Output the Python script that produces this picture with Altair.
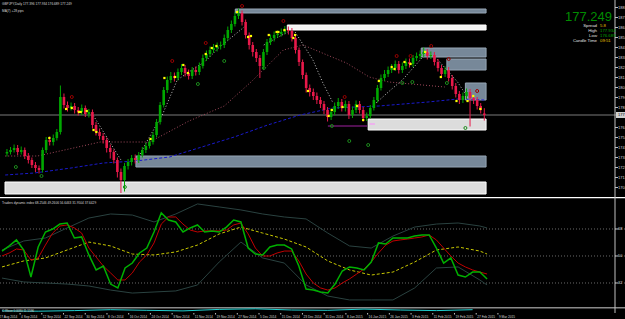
import altair as alt
import pandas as pd

FONT = "Liberation Sans"
W = 625
XDOM = [-0.55, 172.1]
H_MAIN, H_TDI, H_STRIP, H_DATE = 197, 110, 6, 6

# ---------------- candles (daily bars, bar 0 = 28 Aug 2014) ----------------
OPEN = [173.40,173.55,173.75,173.95,173.55,173.75,173.15,172.75,172.25,171.95,
        171.75,173.75,174.75,174.55,174.95,175.55,179.05,178.25,177.95,178.15,
        177.75,177.55,177.95,177.35,177.55,176.25,175.55,175.15,174.75,173.95,
        173.55,172.75,171.55,170.75,172.15,172.55,172.95,172.75,173.25,173.75,
        174.15,174.55,175.25,176.55,178.25,179.75,180.75,181.15,180.95,181.55,
        181.95,181.45,181.15,181.75,181.55,182.15,182.95,183.35,183.75,183.95,
        184.15,184.25,184.95,185.75,186.35,187.15,187.45,186.55,185.25,184.25,
        183.55,182.95,182.15,183.55,184.55,184.95,185.25,185.35,185.55,185.75,
        185.65,184.95,183.75,182.55,181.25,179.95,179.55,179.15,178.75,178.35,
        177.75,177.05,177.55,178.15,178.55,177.95,178.35,177.25,177.75,178.35,
        177.75,176.95,177.15,177.95,178.75,179.95,180.95,181.35,181.75,181.95,
        182.35,181.75,182.15,182.55,182.35,182.95,183.15,183.35,183.55,183.15,
        183.25,182.55,181.95,181.35,181.75,180.95,180.15,179.35,178.75,179.15,
        179.55,178.95,178.75,178.15,177.40]
HIGH = [173.85,174.05,174.30,174.25,174.10,174.00,173.45,173.00,172.55,172.20,
        174.00,175.05,175.10,175.30,175.85,180.20,179.40,178.60,178.50,178.45,
        178.05,178.30,178.20,177.85,177.80,176.55,175.90,175.45,175.00,174.30,
        173.80,173.00,171.90,172.45,172.85,173.25,173.30,173.55,174.05,174.45,
        174.85,175.55,176.85,178.55,180.05,181.10,181.55,181.50,181.90,182.35,
        182.25,181.80,182.05,182.10,182.50,183.30,183.70,184.10,184.35,184.50,
        184.60,185.30,186.10,186.70,187.50,187.90,187.70,186.80,185.50,184.55,
        183.85,183.25,183.85,184.85,185.30,185.60,185.70,185.90,186.15,186.10,
        185.95,185.20,184.00,182.80,181.50,180.30,179.90,179.50,179.05,178.65,
        178.05,177.90,178.50,178.95,178.85,178.70,178.65,178.10,178.70,178.65,
        178.05,177.50,178.25,179.05,180.25,181.30,181.75,182.10,182.35,182.70,
        182.65,182.50,182.90,182.90,183.25,183.50,183.70,184.00,183.85,183.60,
        183.55,182.85,182.25,182.10,182.05,181.25,180.45,179.65,179.50,179.90,
        179.85,179.25,179.05,178.45,177.93]
LOW = [173.10,173.30,173.50,173.25,173.30,172.85,172.40,171.95,171.55,171.40,
       171.50,173.45,174.20,174.20,174.70,175.30,177.90,177.60,177.70,177.40,
       177.20,177.25,177.05,177.00,175.90,175.20,174.80,174.40,173.50,172.90,
       172.40,171.00,169.45,169.60,171.80,172.20,172.40,172.45,173.00,173.45,
       173.90,174.30,175.00,176.30,178.00,179.45,180.45,180.60,180.70,181.25,
       181.10,180.80,180.85,181.20,181.25,181.90,182.65,183.05,183.45,183.60,
       183.80,183.95,184.70,185.45,186.10,186.85,186.20,184.90,183.80,183.10,
       182.55,180.95,181.85,183.25,184.25,184.60,184.95,185.10,185.30,185.30,
       184.60,183.40,182.15,180.85,179.50,179.10,178.75,178.35,177.95,177.35,
       176.60,176.75,177.25,177.85,177.60,177.60,176.85,176.95,177.45,177.40,
       176.60,176.65,176.90,177.70,178.50,179.70,180.65,181.05,181.45,181.65,
       181.40,181.45,181.85,182.00,182.05,182.65,182.85,183.05,182.80,182.85,
       182.20,181.60,181.00,181.05,180.60,179.80,179.00,178.35,178.45,178.85,
       176.10,178.35,177.80,177.40,176.69]
CLOSE = [173.55,173.75,173.95,173.55,173.75,173.15,172.75,172.25,171.95,171.75,
         173.75,174.75,174.55,174.95,175.55,179.05,178.25,177.95,178.15,177.75,
         177.55,177.95,177.35,177.55,176.25,175.55,175.15,174.75,173.95,173.55,
         172.75,171.55,170.75,172.15,172.55,172.95,172.75,173.25,173.75,174.15,
         174.55,175.25,176.55,178.25,179.75,180.75,181.15,180.95,181.55,181.95,
         181.45,181.15,181.75,181.55,182.15,182.95,183.35,183.75,183.95,184.15,
         184.25,184.95,185.75,186.35,187.15,187.45,186.55,185.25,184.25,183.55,
         182.95,182.15,183.55,184.55,184.95,185.25,185.35,185.55,185.75,185.65,
         184.95,183.75,182.55,181.25,179.95,179.55,179.15,178.75,178.35,177.75,
         177.05,177.55,178.15,178.55,177.95,178.35,177.25,177.75,178.35,177.75,
         176.95,177.15,177.95,178.75,179.95,180.95,181.35,181.75,181.95,182.35,
         181.75,182.15,182.55,182.35,182.95,183.15,183.35,183.55,183.15,183.25,
         182.55,181.95,181.35,181.75,180.95,180.15,179.35,178.75,179.15,179.55,
         178.95,178.75,178.15,177.75,177.25]
LAST = 177.249

# ---------------- zones ----------------
ZONE_START = [64.1, 78.7, 116.3, 123.5, 128.7, 101.4, 36.2, -0.55]
ZONE_END = [134.5, 134.5, 134.5, 134.5, 134.5, 134.5, 134.5, 134.5]
ZONE_TOP = [187.85, 186.25, 183.95, 182.85, 180.45, 176.85, 173.15, 170.55]
ZONE_BOT = [187.45, 185.75, 183.05, 181.75, 178.75, 175.75, 172.05, 169.35]
ZONE_KIND = ["supply", "white", "supply", "supply", "supply", "demand", "supply", "demand"]

# ---------------- overlay lines ----------------
BLUE_BAR = [-0.5, 7.7, 18.0, 27.1, 36.2, 45.6, 54.7, 63.8, 73.2, 82.3, 91.4, 104.4, 118.2, 126.5, 134.0]
BLUE_VAL = [171.25, 171.45, 171.95, 172.45, 172.65, 173.05, 174.05, 175.05, 176.25, 177.25, 177.95, 178.15, 178.55, 178.85, 178.75]
MAROON_BAR = [-0.5, 8.6, 26.2, 40.1, 51.1, 61.0, 68.5, 77.6, 83.1, 95.3, 101.7, 107.2, 122.9]
MAROON_VAL = [173.15, 173.15, 174.55, 174.55, 176.65, 178.15, 180.55, 183.75, 184.25, 182.45, 181.05, 180.55, 180.05]
ZZ_SEG = [1, 1, 2, 2, 2, 2, 2, 2, 2, 2, 3, 3, 4, 4, 4, 4, 5, 5, 5, 5, 5, 6, 6, 6, 6]
ZZ_BAR = [23.8, 32.0, 36.2, 39.5, 43.6, 47.8, 51.9, 55.5, 59.4, 66.6, 72.1, 79.3,
          80.9, 85.9, 88.7, 91.4, 103.6, 107.7, 111.0, 115.5, 117.7, 118.2, 121.0, 126.5, 129.8]
ZZ_VAL = [177.45, 172.75, 172.55, 174.75, 177.25, 180.75, 181.75, 182.55, 183.95, 186.05, 184.25, 185.65,
          185.55, 182.75, 180.45, 178.55, 178.45, 179.75, 180.75, 182.55, 183.45, 183.55, 182.75, 180.55, 178.75]
PURPLE_BAR = [90.1, 101.1]
PURPLE_VAL = [176.15, 176.15]
PINK_BAR = [101.8, 103.3]
PINK_VAL = [176.35, 176.35]

# ---------------- markers ----------------
YEL_BAR = [11.9, 16.6, 18.2, 20.2, 20.7, 22.4, 24.3, 25.1, 40.3, 44.2, 47.2, 49.5, 50.8, 55.8, 57.5, 58.8,
           64.6, 67.7, 68.5, 73.5, 75.7, 76.2, 77.9, 80.4, 80.9, 84.5, 90.3, 91.2, 94.2, 98.3, 100.0,
           104.4, 108.0, 108.8, 111.6, 113.3, 117.4, 121.8, 126.2, 129.3, 130.9, 132.9]
YEL_VAL = [174.95, 177.85, 177.95, 177.55, 177.55, 177.65, 175.75, 175.55, 174.85, 180.95, 181.05, 182.25,
           181.45, 183.35, 183.95, 184.15, 187.55, 185.05, 185.15, 185.25, 185.55, 185.55, 185.75, 184.95,
           185.25, 179.65, 177.15, 177.75, 178.05, 178.15, 176.75, 180.65, 182.05, 181.85, 182.55, 182.35,
           183.55, 181.05, 178.65, 178.65, 179.15, 177.85]
FR_UP_BAR = [18.2, 46.4, 55.8, 66.0, 77.6, 94.8, 109.4, 113.3, 119.1, 124.0, 132.0]
FR_UP_VAL = [179.05, 182.65, 184.45, 188.15, 186.65, 179.05, 183.15, 183.15, 184.15, 182.85, 179.65]
FR_DN_BAR = [2.5, 9.7, 33.1, 53.6, 61.0, 72.1, 91.2, 96.1, 101.4, 111.0, 113.8, 123.5, 128.7]
FR_DN_VAL = [172.05, 171.15, 170.05, 180.35, 182.65, 181.95, 176.15, 174.65, 174.25, 180.45, 180.55, 180.45, 175.95]

PRICE_TICKS = [188, 187, 186, 185, 184, 183, 182, 181, 180, 179, 178, 176, 175, 174, 173, 172, 171, 170]

# ---------------- Traders Dynamic Index ----------------
TDI_FAST_BAR = list(range(0, 135, 2))
TDI_GREEN = [53.3, 56.7, 60.7, 54.0, 36.0, 56.0, 66.0, 68.0, 71.3, 72.0,
             62.0, 62.7, 50.7, 40.7, 43.3, 31.3, 28.7, 42.0, 45.3, 52.0,
             55.3, 66.0, 78.7, 74.0, 72.7, 66.0, 68.7, 70.7, 66.0, 66.7,
             66.0, 69.3, 74.0, 72.7, 55.3, 51.3, 50.7, 56.0, 57.3, 57.3,
             54.7, 43.3, 28.0, 27.3, 26.0, 25.3, 31.3, 40.0, 42.7, 42.0,
             40.7, 46.0, 58.7, 58.0, 62.0, 62.0, 62.0, 63.3, 64.0, 64.0,
             55.3, 45.3, 48.7, 37.3, 36.0, 39.3, 39.3, 34.7]
TDI_RED = [50.0, 52.0, 54.7, 54.0, 47.3, 48.7, 57.3, 65.3, 70.0, 70.7,
           68.7, 65.3, 55.3, 49.3, 43.3, 38.7, 34.0, 34.0, 38.7, 46.0,
           50.7, 58.7, 71.3, 76.0, 76.0, 71.3, 67.3, 66.0, 66.7, 66.7,
           66.7, 67.3, 70.7, 72.0, 64.7, 55.3, 50.0, 50.0, 52.0, 53.3,
           53.3, 46.7, 38.0, 32.0, 28.7, 27.3, 28.7, 32.0, 34.7, 38.0,
           41.3, 46.0, 52.0, 57.3, 60.0, 60.7, 61.3, 62.0, 62.7, 64.0,
           60.7, 55.3, 50.0, 45.3, 42.7, 40.7, 39.3, 38.0]
TDI_SLOW_BAR = list(range(0, 133, 6)) + [134]
TDI_BASE = [42.7, 46.7, 48.7, 54.0, 59.3, 56.7, 51.3, 50.7, 52.7, 57.3, 64.7, 69.3,
            65.3, 61.3, 56.0, 46.7, 40.7, 37.3, 39.3, 46.0, 54.0, 56.0, 53.3, 51.3]
TDI_UPPER = [54.0, 60.0, 62.0, 68.7, 75.3, 78.0, 77.3, 72.7, 78.0, 84.7, 82.7, 80.7,
             78.0, 76.0, 74.7, 65.3, 56.7, 55.3, 63.3, 69.3, 71.3, 72.0, 70.0, 68.7]
TDI_LOWER = [35.3, 32.7, 32.0, 31.3, 30.0, 27.3, 25.3, 26.0, 26.7, 30.7, 46.0, 59.3,
             48.7, 45.3, 30.7, 23.3, 20.7, 20.7, 20.7, 28.7, 42.0, 42.7, 34.0, 30.7]
TDI_LEVELS = [68, 50, 32]

# ---------------- bottom strip indicator ----------------
STRIP_BAR = list(range(0, 131, 10))
STRIP_VAL = [0.35, 0.3, 0.4, 0.55, 0.45, 0.35, 0.6, 0.7, 0.5, 0.45, 0.65, 0.5, 0.4, 0.55]

# ---------------- date labels ----------------
LABEL_BAR = [-1, 5, 11, 17, 23, 29, 35, 41, 47, 53, 59, 65, 71, 77, 83, 89, 95, 101, 107, 113, 119, 125, 131, 137]
LABEL_TEXT = ["27 Aug 2014", "4 Sep 2014", "12 Sep 2014", "22 Sep 2014", "30 Sep 2014", "8 Oct 2014",
              "16 Oct 2014", "24 Oct 2014", "3 Nov 2014", "11 Nov 2014", "19 Nov 2014", "27 Nov 2014",
              "5 Dec 2014", "15 Dec 2014", "23 Dec 2014", "31 Dec 2014", "8 Jan 2015", "16 Jan 2015",
              "26 Jan 2015", "3 Feb 2015", "11 Feb 2015", "19 Feb 2015", "27 Feb 2015", "9 Mar 2015"]

# ================= chart =================
BULL, BEAR = "#00a800", "#e8194a"
AXC = "#c0c0c0"
LBL = "#d8d8d8"
AXIS_PX = 615

xs = alt.Scale(domain=XDOM, nice=False, zero=False)
ys_main = alt.Scale(domain=[169.05, 188.75], nice=False, zero=False)
ys_tdi = alt.Scale(domain=[16, 89.33], nice=False, zero=False)
ys_strip = alt.Scale(domain=[0, 1], nice=False, zero=False)


def XQ(f):
    return alt.X(f"{f}:Q", scale=xs, axis=None)


def YQ(f, sc):
    return alt.Y(f"{f}:Q", scale=sc, axis=None)


def txt(text, px, py, color, size, align="left", baseline="middle"):
    return alt.Chart(pd.DataFrame({"t": [text]})).mark_text(
        align=align, baseline=baseline, font=FONT, fontSize=size, color=color, clip=True
    ).encode(x=alt.value(px), y=alt.value(py), text="t:N")


def axis_line(h):
    return alt.Chart(pd.DataFrame({"a": [0]})).mark_rule(color=AXC, strokeWidth=1, clip=True).encode(
        x=alt.value(AXIS_PX), y=alt.value(0), y2=alt.value(h))


# ----- main panel -----
cdf = pd.DataFrame({"bar": list(range(len(CLOSE))), "open": OPEN, "high": HIGH, "low": LOW, "close": CLOSE})
col = alt.condition("datum.close >= datum.open", alt.value(BULL), alt.value(BEAR))

zones = pd.DataFrame({"x1": ZONE_START, "x2": ZONE_END, "top": ZONE_TOP, "bot": ZONE_BOT, "kind": ZONE_KIND})
kinds = ["supply", "white", "demand"]
zone_layer = alt.Chart(zones).mark_rect(strokeWidth=1, clip=True).encode(
    x=XQ("x1"), x2="x2:Q", y=YQ("top", ys_main), y2="bot:Q",
    fill=alt.Fill("kind:N", scale=alt.Scale(domain=kinds, range=["#778899", "#f4f4f4", "#dcdcdc"]), legend=None),
    stroke=alt.Stroke("kind:N", scale=alt.Scale(domain=kinds, range=["#96a5b4", "#ffffff", "#ffffff"]), legend=None),
)

price_line = alt.Chart(pd.DataFrame({"p": [LAST]})).mark_rule(color="#7a7a7a", strokeWidth=1, clip=True).encode(
    y=YQ("p", ys_main))

blue = alt.Chart(pd.DataFrame({"bar": BLUE_BAR, "v": BLUE_VAL})).mark_line(
    color="#1a1acc", strokeWidth=1, strokeDash=[3, 2], clip=True).encode(x=XQ("bar"), y=YQ("v", ys_main))
maroon = alt.Chart(pd.DataFrame({"bar": MAROON_BAR, "v": MAROON_VAL})).mark_line(
    color="#a04a5c", strokeWidth=1, strokeDash=[1, 2], clip=True).encode(x=XQ("bar"), y=YQ("v", ys_main))
zz = alt.Chart(pd.DataFrame({"bar": ZZ_BAR, "v": ZZ_VAL, "seg": ZZ_SEG})).mark_line(
    color="#c4c4c4", strokeWidth=1, strokeDash=[1, 2], clip=True).encode(
    x=XQ("bar"), y=YQ("v", ys_main), detail="seg:N")
purple = alt.Chart(pd.DataFrame({"bar": PURPLE_BAR, "v": PURPLE_VAL})).mark_line(
    color="#a020a0", strokeWidth=1, clip=True).encode(x=XQ("bar"), y=YQ("v", ys_main))
pink = alt.Chart(pd.DataFrame({"bar": PINK_BAR, "v": PINK_VAL})).mark_line(
    color="#ff88ff", strokeWidth=1, clip=True).encode(x=XQ("bar"), y=YQ("v", ys_main))

wicks = alt.Chart(cdf).mark_rule(strokeWidth=1, clip=True).encode(
    x=XQ("bar"), y=YQ("low", ys_main), y2="high:Q", color=col)
bodies = alt.Chart(cdf).mark_bar(size=2.6, clip=True).encode(
    x=XQ("bar"), y=YQ("open", ys_main), y2="close:Q", color=col)

yel = alt.Chart(pd.DataFrame({"bar": YEL_BAR, "v": YEL_VAL})).mark_square(
    color="#ffff00", size=5, opacity=1, clip=True).encode(x=XQ("bar"), y=YQ("v", ys_main))
fr_up = alt.Chart(pd.DataFrame({"bar": FR_UP_BAR, "v": FR_UP_VAL})).mark_point(
    shape="circle", filled=False, size=9, strokeWidth=1, color="#9a0000", opacity=1, clip=True).encode(
    x=XQ("bar"), y=YQ("v", ys_main))
fr_dn = alt.Chart(pd.DataFrame({"bar": FR_DN_BAR, "v": FR_DN_VAL})).mark_point(
    shape="circle", filled=False, size=9, strokeWidth=1, color="#1c8a1c", opacity=1, clip=True).encode(
    x=XQ("bar"), y=YQ("v", ys_main))

ptk = pd.DataFrame({"p": PRICE_TICKS})
ptick = alt.Chart(ptk).mark_rule(color=AXC, clip=True).encode(
    x=alt.value(AXIS_PX), x2=alt.value(AXIS_PX + 3), y=YQ("p", ys_main))
plabel = alt.Chart(ptk).mark_text(align="left", baseline="middle", font=FONT, fontSize=4, color=LBL, clip=True).encode(
    x=alt.value(AXIS_PX + 3), y=YQ("p", ys_main), text=alt.Text("p:Q", format=".3f"))
last_df = pd.DataFrame({"p": [LAST]})
last_tag = alt.Chart(last_df).transform_calculate(hi="datum.p + 0.3", lo="datum.p - 0.3").mark_rect(
    color="#d0d0d0", clip=True).encode(x=alt.value(AXIS_PX + 1), x2=alt.value(W), y=YQ("hi", ys_main), y2="lo:Q")
last_txt = alt.Chart(last_df).mark_text(align="left", baseline="middle", font=FONT, fontSize=4, color="black", clip=True).encode(
    x=alt.value(AXIS_PX + 3), y=YQ("p", ys_main), text=alt.Text("p:Q", format=".3f"))

main = alt.layer(
    zone_layer, price_line, blue, maroon, zz, purple, pink, wicks, bodies, yel, fr_up, fr_dn,
    axis_line(H_MAIN), ptick, plabel, last_tag, last_txt,
    txt("GBPJPY,Daily  177.396 177.934 176.689 177.249", 2, 4, LBL, 3.2),
    txt("MA(7)    +28 pips", 2, 11, LBL, 3.2),
    txt("177.249", 612, 21, "#008c00", 13, align="right", baseline="alphabetic"),
    txt("Spread", 597, 25.5, "#e0e0e0", 4.3, align="right"),
    txt("5.8", 600, 25.5, "#e8c000", 4.3),
    txt("High", 597, 30.5, "#e0e0e0", 4.3, align="right"),
    txt("177.934", 600, 30.5, "#00a000", 4.3),
    txt("Low", 597, 35.5, "#e0e0e0", 4.3, align="right"),
    txt("176.689", 600, 35.5, "#00a000", 4.3),
    txt("Candle Time", 597, 40.5, "#e0e0e0", 4.3, align="right"),
    txt("09:51", 600, 40.5, "#e8c000", 4.3),
).properties(width=W, height=H_MAIN)

# ----- TDI panel -----
fast = pd.DataFrame({"bar": TDI_FAST_BAR, "g": TDI_GREEN, "r": TDI_RED})
slow = pd.DataFrame({"bar": TDI_SLOW_BAR, "base": TDI_BASE, "up": TDI_UPPER, "lo": TDI_LOWER})
lv = pd.DataFrame({"v": TDI_LEVELS})

tdi = alt.layer(
    alt.Chart(pd.DataFrame({"v": [89.0]})).mark_rule(color="white", strokeWidth=1.5, clip=True).encode(y=YQ("v", ys_tdi)),
    alt.Chart(lv).mark_rule(color="#6a6a6a", strokeWidth=1, strokeDash=[1, 2], clip=True).encode(y=YQ("v", ys_tdi)),
    alt.Chart(slow).mark_line(color="#2a4240", strokeWidth=1, clip=True).encode(x=XQ("bar"), y=YQ("up", ys_tdi)),
    alt.Chart(slow).mark_line(color="#2a4240", strokeWidth=1, clip=True).encode(x=XQ("bar"), y=YQ("lo", ys_tdi)),
    alt.Chart(slow).mark_line(color="#c8c800", strokeWidth=1, strokeDash=[3, 2], clip=True).encode(x=XQ("bar"), y=YQ("base", ys_tdi)),
    alt.Chart(fast).mark_line(color="#c00000", strokeWidth=1, clip=True).encode(x=XQ("bar"), y=YQ("r", ys_tdi)),
    alt.Chart(fast).mark_line(color="#00b000", strokeWidth=1.5, clip=True).encode(x=XQ("bar"), y=YQ("g", ys_tdi)),
    axis_line(H_TDI),
    alt.Chart(lv).mark_rule(color=AXC, clip=True).encode(x=alt.value(AXIS_PX), x2=alt.value(AXIS_PX + 3), y=YQ("v", ys_tdi)),
    alt.Chart(lv).mark_text(align="left", baseline="middle", font=FONT, fontSize=4, color=LBL, clip=True).encode(
        x=alt.value(AXIS_PX + 3), y=YQ("v", ys_tdi), text=alt.Text("v:Q", format="d")),
    txt("Traders dynamic index 68.2546 49.2606 56.6463 31.9504 37.6429", 2, 6, LBL, 3.2),
).properties(width=W, height=H_TDI)

# ----- bottom strip -----
strip = alt.layer(
    alt.Chart(pd.DataFrame({"v": [0.92]})).mark_rule(color="#8a8a8a", strokeWidth=2, clip=True).encode(y=YQ("v", ys_strip)),
    alt.Chart(pd.DataFrame({"bar": STRIP_BAR, "v": STRIP_VAL})).mark_line(color="#20d0d0", strokeWidth=1, clip=True).encode(
        x=XQ("bar"), y=YQ("v", ys_strip)),
    axis_line(H_STRIP),
    txt("C.Wave  0.0080  11.1596", 2, 3.5, LBL, 3),
).properties(width=W, height=H_STRIP)

# ----- date labels -----
ldf = pd.DataFrame({"bar": LABEL_BAR, "t": LABEL_TEXT})
dates = alt.layer(
    alt.Chart(ldf).mark_rule(color=AXC, clip=True).encode(x=XQ("bar"), y=alt.value(0), y2=alt.value(1.5)),
    alt.Chart(ldf).mark_text(align="left", baseline="middle", dx=1, font=FONT, fontSize=3.2, color=LBL, clip=True).encode(
        x=XQ("bar"), y=alt.value(3.6), text="t:N"),
).properties(width=W, height=H_DATE)

chart = alt.vconcat(main, tdi, strip, dates, spacing=0).properties(
    padding=0, background="black"
).configure_view(stroke=None)

chart.save("out.html", embed_options={"renderer": "svg", "actions": False})
